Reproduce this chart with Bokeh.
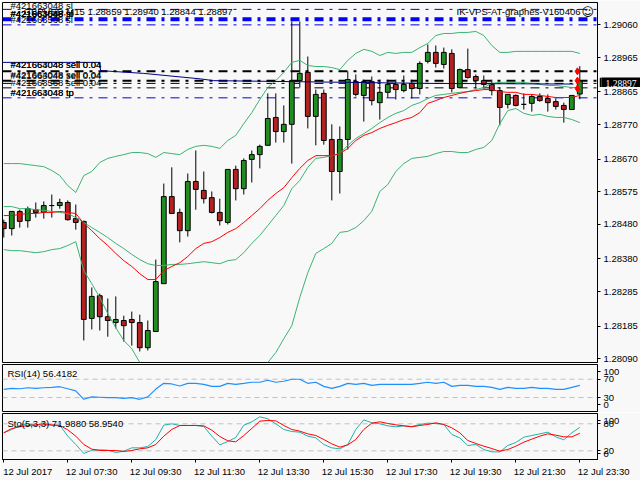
from bokeh.plotting import figure
from bokeh.layouts import column
from bokeh.models import Span, Label, FixedTicker, NumeralTickFormatter, Range1d
from bokeh.embed import file_html
from bokeh.resources import INLINE
import numpy as np

# prices in 1e-5 points
opens = [128486,128468,128518,128491,128523,128515,128535,128535,128544,128497,128489,128207,128273,128212,128195,128201,128204,128195,128122,128169,128308,128561,128515,128462,128605,128579,128558,128515,128486,128640,128584,128669,128683,128710,128791,128750,128771,128898,128922,128794,128861,128727,128634,128727,128895,128855,128895,128834,128864,128887,128869,128890,128875,128954,128980,128945,128977,128878,128930,128910,128898,128887,128869,128829,128855,128829,128832,128852,128846,128837,128826,128814,128859]
highs = [128494,128518,128523,128532,128544,128547,128567,128555,128550,128538,128491,128297,128279,128265,128271,128215,128227,128218,128201,128378,128599,128646,128526,128628,128695,128634,128576,128555,128640,128651,128672,128695,128712,128861,128861,128826,129070,129070,128968,128872,128872,128771,128765,128925,128916,128901,128910,128901,128901,128901,128913,128901,128954,129003,129000,128994,128989,128933,128991,128916,128913,128901,128878,128858,128858,128861,128858,128861,128858,128846,128834,128855,128940]
lows = [128442,128448,128471,128471,128500,128497,128500,128526,128491,128465,128143,128175,128172,128154,128178,128140,128128,128111,128114,128169,128308,128512,128428,128445,128523,128541,128512,128477,128480,128550,128567,128602,128643,128710,128718,128718,128657,128878,128759,128710,128712,128550,128570,128698,128852,128779,128826,128785,128849,128843,128864,128846,128858,128948,128936,128933,128864,128878,128904,128875,128875,128855,128768,128817,128823,128814,128808,128837,128808,128814,128776,128814,128844]
closes = [128468,128518,128489,128526,128515,128535,128535,128544,128494,128486,128204,128271,128212,128201,128204,128186,128195,128122,128172,128314,128561,128512,128462,128605,128582,128555,128515,128491,128640,128584,128666,128683,128707,128788,128750,128771,128898,128919,128794,128858,128724,128634,128727,128901,128858,128895,128840,128864,128887,128872,128887,128875,128948,128980,128948,128980,128875,128930,128907,128898,128887,128869,128820,128858,128826,128829,128852,128840,128834,128823,128814,128855,128897]

band_upper = [128657,128657,128657,128654,128651,128648,128637,128622,128593,128573,128622,128634,128660,128672,128678,128683,128689,128689,128686,128675,128689,128686,128683,128698,128707,128710,128707,128701,128724,128739,128773,128805,128843,128878,128898,128922,128951,128957,128942,128939,128939,128936,128930,128957,128977,128989,128983,128971,128980,128977,128980,128980,128994,129006,129029,129035,129035,129038,129038,129041,129029,129000,128980,128980,128983,128983,128983,128983,128983,128983,128983,128983,128977]
band_mid = [128532,128532,128526,128526,128523,128521,128518,128515,128512,128500,128486,128471,128457,128442,128425,128410,128393,128378,128366,128361,128361,128364,128364,128366,128369,128372,128369,128366,128375,128378,128398,128425,128448,128477,128506,128535,128584,128608,128646,128672,128675,128680,128686,128710,128730,128744,128759,128776,128791,128803,128811,128826,128834,128846,128855,128858,128861,128864,128866,128872,128878,128890,128893,128893,128893,128893,128890,128887,128884,128884,128881,128878,128878]
ma_red = [128506,128506,128509,128512,128512,128515,128515,128518,128515,128512,128483,128462,128439,128419,128396,128375,128358,128337,128320,128320,128346,128358,128369,128387,128410,128425,128430,128442,128457,128468,128486,128506,128526,128550,128570,128587,128616,128643,128666,128680,128680,128680,128686,128701,128724,128739,128747,128759,128768,128776,128785,128791,128805,128832,128840,128849,128855,128861,128866,128869,128872,128872,128866,128864,128864,128858,128858,128855,128852,128849,128849,128849,128855]
band_lower = [128407,128404,128404,128401,128398,128401,128407,128410,128419,128430,128346,128308,128268,128221,128180,128143,128119,128079]+[float("nan")]*15+[128079,128108,128148,128186,128268,128340,128396,128410,128425,128457,128460,128471,128491,128518,128576,128596,128634,128657,128672,128675,128678,128686,128692,128692,128689,128689,128698,128704,128724,128773,128811,128817,128803,128797,128800,128794,128791,128791,128785,128776,128776,128776]

rsi = [47.7,49.9,49.2,51.4,49.9,51.4,52.1,53.6,49.2,44.7,26.2,31.4,30.7,29.9,29.9,28.4,29.9,26.2,31.4,48.4,61,59.6,55.1,61,61,58.8,54.4,54.4,61,58.8,61,63.3,63.3,67.7,63.3,65.5,69.9,69.9,61,63.3,54.4,49.9,54.4,61,58.8,61,56.6,58.8,58.8,58.8,58.8,58.8,61,63.3,61,63.3,54.4,56.6,56.6,54.4,54.4,52.1,47.7,52.1,49.9,49.9,52.1,49.9,49.9,47.7,47.7,52.1,56.4]
sto_main = [60,67.4,76.3,80,76.3,82.2,76.3,77,52.6,34,14,21.4,22.2,21.4,16.3,19.2,26.6,26.6,29.6,45.1,77,80,76.3,76.3,76.3,74,52.6,33.3,40.7,49.6,77,84.4,95.5,91.1,80,67.4,62.9,61.4,52.6,48.8,34,26.6,24.4,34,67.4,88.8,82.2,80,75.5,73.3,75.5,74,78.5,81.4,80.7,78.5,56.3,48.8,31.8,34,22.9,17.7,17.7,31.8,38.5,50.3,54,57.7,61.4,51,44.4,60,71.99]
sto_signal = [60,69.6,73.3,76.3,77.7,77.7,77.7,76.3,66.6,52.6,34,23.7,20.7,20.7,20.7,18.5,20.7,24.4,26.6,34,52.6,67.4,76.3,76.3,76.3,75.5,65.9,51.8,42.2,40,54,69.6,85.9,87.4,86.6,76.3,67.4,63.7,57.7,54,45.1,35.5,28.1,33.3,45.1,67.4,81.4,84.4,80.7,77.7,75.5,73.3,76.3,78.5,82.2,78.5,71.1,60,42.9,36.3,30.3,25.1,19.2,22.9,30.3,39.2,45.9,52.6,57.7,54.8,51,51,58.95]

price_ticks = [1.29060,1.28965,1.28865,1.28770,1.28670,1.28575,1.28480,1.28380,1.28285,1.28185,1.28090]
time_labels = ["12 Jul 2017","12 Jul 07:30","12 Jul 09:30","12 Jul 11:30","12 Jul 13:30","12 Jul 15:30","12 Jul 17:30","12 Jul 19:30","12 Jul 21:30","12 Jul 23:30"]
time_ticks = [0,8,16,24,32,40,48,56,64,72]

level_blue_thin = [1.29105,1.29060,1.28848]
level_blue_thick = [1.29076]
level_black_thick = [1.28925,1.28898]
level_black_thin = [1.28890,1.28877]
trend_x = [-0.2,12,12.1,17.5,24.6,26.2,52.9,71.2]
trend_p = [1.28951,1.28951,1.28927,1.28919,1.28903,1.28898,1.28890,1.28888]
arrow_x = [71.7,71.7,71.7]
arrow_p = [1.28925,1.28898,1.28875]
bid_label = ["1.28897"]

BG = "#f8f8f8"
FONT = "Liberation Sans"
FS = "9.5px"
P = lambda a: np.array(a, dtype=float) / 1e5
x = np.arange(len(opens))
XR = (-0.16, 74.21)

def base(h, fh, top, bottom, yr):
    f = figure(width=640, height=h, frame_width=595, frame_height=fh, output_backend="svg", toolbar_location=None,
               x_range=Range1d(*XR), y_range=Range1d(*yr), y_axis_location="right",
               min_border_left=2, min_border_right=43, min_border_top=top, min_border_bottom=bottom,
               background_fill_color=BG, border_fill_color=BG, outline_line_color="black", outline_line_width=1)
    f.grid.visible = False
    a = f.yaxis[0]
    a.major_label_text_font = FONT
    a.major_label_text_font_size = FS
    a.major_label_text_color = "black"
    a.major_tick_out = 3
    a.major_tick_in = 0
    a.minor_tick_out = 0
    a.minor_tick_in = 0
    a.major_label_standoff = 3
    a.axis_line_color = "black"
    a.major_tick_line_color = "black"
    return f

def text(f, fb, tx, ty, s, font=FONT, size=FS, **kw):
    # Label screen units are measured from the frame's left and bottom edges
    f.add_layout(Label(x=tx - 2, y=fb - ty, x_units="screen", y_units="screen", text=s, text_font=font,
                       text_font_size=size, text_color="black", text_baseline="middle", **kw))

# main window
p1 = base(363, 360, 2, 1, (1.28079, 1.29125))
p1.xaxis.visible = False
p1.yaxis[0].ticker = FixedTicker(ticks=price_ticks)
p1.yaxis[0].formatter = NumeralTickFormatter(format="0.00000")
DD = [9, 6, 3, 6]
for v in level_blue_thin:
    p1.add_layout(Span(location=v, dimension="width", line_color="#0000dd", line_width=1, line_dash=DD, level="underlay"))
for v in level_blue_thick:
    p1.add_layout(Span(location=v, dimension="width", line_color="#0000ff", line_width=4, line_dash=DD, level="underlay"))
for v in level_black_thick:
    p1.add_layout(Span(location=v, dimension="width", line_color="black", line_width=2, line_dash=DD, level="underlay"))
for v in level_black_thin:
    p1.add_layout(Span(location=v, dimension="width", line_color="black", line_width=1, line_dash=DD, level="underlay"))

o, h, l, c = P(opens), P(highs), P(lows), P(closes)
colors = ["#228b22" if cc > oo else "#b22222" for oo, cc in zip(o, c)]
p1.segment(x, h, x, l, line_color="black", line_width=1)
p1.vbar(x, 0.6, np.maximum(o, c), np.minimum(o, c), fill_color=colors, line_color="black", line_width=1)
for arr, col in ((band_upper, "#3cb371"), (band_mid, "#3cb371"), (band_lower, "#3cb371"), (ma_red, "#ff0000")):
    p1.line(x, P(arr), line_color=col, line_width=1)
p1.line(trend_x, trend_p, line_color="#000080", line_width=1)
p1.scatter(arrow_x, arrow_p, marker="diamond", size=7, color="#ff0000")

for ty, s in [(5, "#421663048 sl"), (13, "#421663048 sl"), (13, "#421664048 sl"), (13, "#421663568 tp"), (19, "#421663568 sl"),
              (64, "#421663048 sell 0.04"), (64, "#421664048 sell 0.04"), (74, "#421664048 sell 0.04"), (75, "#421663048 sell 0.04"),
              (82, "#421663568 sell 0.04"), (92, "#421663048 tp"), (92, "#421664048 tp")]:
    text(p1, 362, 10, ty, s)
text(p1, 362, 23, 11, "GBPUSD,M15 1.28859 1.28940 1.28844 1.28897")
text(p1, 362, 580, 11, "IK-VPS-AT-graphes-V160406", text_align="right")
text(p1, 362, 581, 11, "\u263a", font="DejaVu Sans", size="12px")

# black price tag sitting over the right axis
tag = figure(width=41, height=11, frame_width=41, frame_height=11, output_backend="svg", toolbar_location=None,
             x_range=Range1d(0, 41), y_range=Range1d(0, 11), min_border=0, min_border_left=0, min_border_right=0,
             min_border_top=0, min_border_bottom=0, background_fill_color="black",
             border_fill_color="black", outline_line_color=None, margin=(-287, 0, 276, 599))
tag.xaxis.visible = False
tag.yaxis.visible = False
tag.grid.visible = False
tag.text(x=[4], y=[5.5], text=bid_label, text_color="white", text_font=FONT, text_font_size=FS, text_baseline="middle", text_align="left")

# RSI window
p2 = base(49, 47, 1, 1, (-0.4, 102))
p2.xaxis.visible = False
p2.yaxis[0].ticker = FixedTicker(ticks=[14, 30, 70, 86])
p2.yaxis[0].major_label_overrides = {86: "100", 70: "70", 30: "30", 14: "0"}
for v in (70, 30):
    p2.add_layout(Span(location=v, dimension="width", line_color="#c0c0c0", line_width=1, line_dash=[5, 4], level="underlay"))
p2.line(x, rsi, line_color="#1e90ff", line_width=1.2)
text(p2, 48, 7, 10, "RSI(14) 56.4182")

# Stochastic window
p3 = base(68, 46, 1, 21, (0.7, 102.9))
p3.yaxis[0].ticker = FixedTicker(ticks=[14, 20, 80, 87])
p3.yaxis[0].major_label_overrides = {87: "100", 80: "80", 20: "20", 14: "0"}
for v in (80, 20):
    p3.add_layout(Span(location=v, dimension="width", line_color="#c0c0c0", line_width=1, line_dash=[5, 4], level="underlay"))
p3.line(x, sto_main, line_color="#20b2aa", line_width=1)
p3.line(x, sto_signal, line_color="#ff0000", line_width=1)
text(p3, 47, 7, 10.5, "Sto(5,3,3) 71.9880 58.9540")
ax = p3.xaxis[0]
ax.ticker = FixedTicker(ticks=time_ticks)
# axis labels are centred on their ticks; leading no-break spaces put each label's start at its tick
overrides = {t: "\u00a0" * 18 + s for t, s in zip(time_ticks, time_labels)}
overrides[0] = "\u00a0" + time_labels[0]
ax.major_label_overrides = overrides
ax.major_label_text_font = FONT
ax.major_label_text_font_size = FS
ax.major_label_text_color = "black"
ax.major_tick_out = 3
ax.major_tick_in = 0
ax.minor_tick_out = 0
ax.minor_tick_in = 0
ax.major_label_standoff = 3

page = column(p1, tag, p2, p3, spacing=0)
open("out.html", "w").write(file_html(page, INLINE))
